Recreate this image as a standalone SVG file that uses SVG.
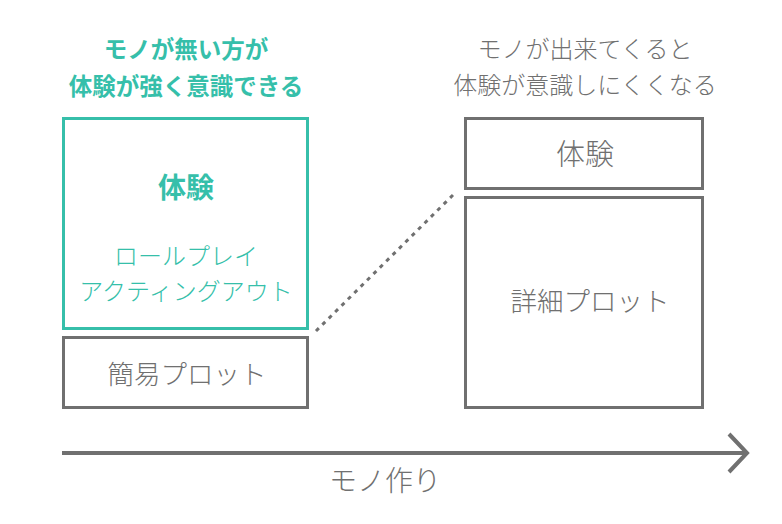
<svg xmlns="http://www.w3.org/2000/svg" width="782" height="524" viewBox="0 0 782 524">
<style>
text{font-family:"Noto Sans CJK JP","Noto Sans",sans-serif;text-anchor:middle}
.teal{fill:#36bfaa}
.gray{fill:#707070;font-weight:300}
.lt{font-weight:300}
.box{fill:#fff;stroke:#707070;stroke-width:3}
.tbox{fill:#fff;stroke:#36bfaa;stroke-width:3}
</style>
<rect width="782" height="524" fill="#fff"/>
<g id="title-left">
<text class="teal" x="186" y="58" font-size="23.5" font-weight="bold">モノが無い方が</text>
<text class="teal" x="186" y="95" font-size="23.5" font-weight="bold">体験が強く意識できる</text>
</g>
<g id="title-right">
<text class="gray" x="585" y="58" font-size="24">モノが出来てくると</text>
<text class="gray" x="585" y="94" font-size="24">体験が意識しにくくなる</text>
</g>
<g id="node-experience-left">
<rect class="tbox" x="63.5" y="118.5" width="244" height="210"/>
<text class="teal" x="186" y="198" font-size="28" font-weight="bold">体験</text>
<text class="teal lt" x="186" y="265" font-size="24">ロールプレイ</text>
<text class="teal lt" x="186" y="300" font-size="24">アクティングアウト</text>
</g>
<g id="node-simple-plot">
<rect class="box" x="63.5" y="337.5" width="244" height="70"/>
<text class="gray" x="187" y="384" font-size="26.5">簡易プロット</text>
</g>
<g id="node-experience-right">
<rect class="box" x="465.5" y="118.5" width="237" height="70"/>
<text class="gray" x="585" y="165" font-size="29">体験</text>
</g>
<g id="node-detail-plot">
<rect class="box" x="465.5" y="197.5" width="237" height="210"/>
<text class="gray" x="590" y="311" font-size="26.5">詳細プロット</text>
</g>
<g id="connectors">
<line x1="316" y1="331" x2="455" y2="193" stroke="#707070" stroke-width="3" stroke-dasharray="4 5"/>
<line x1="62" y1="453" x2="746" y2="453" stroke="#707070" stroke-width="4"/>
<polyline points="729,434 747,453 729,472" fill="none" stroke="#707070" stroke-width="4"/>
</g>
<g id="axis-label">
<text class="gray" x="385" y="491" font-size="28">モノ作り</text>
</g>
</svg>
